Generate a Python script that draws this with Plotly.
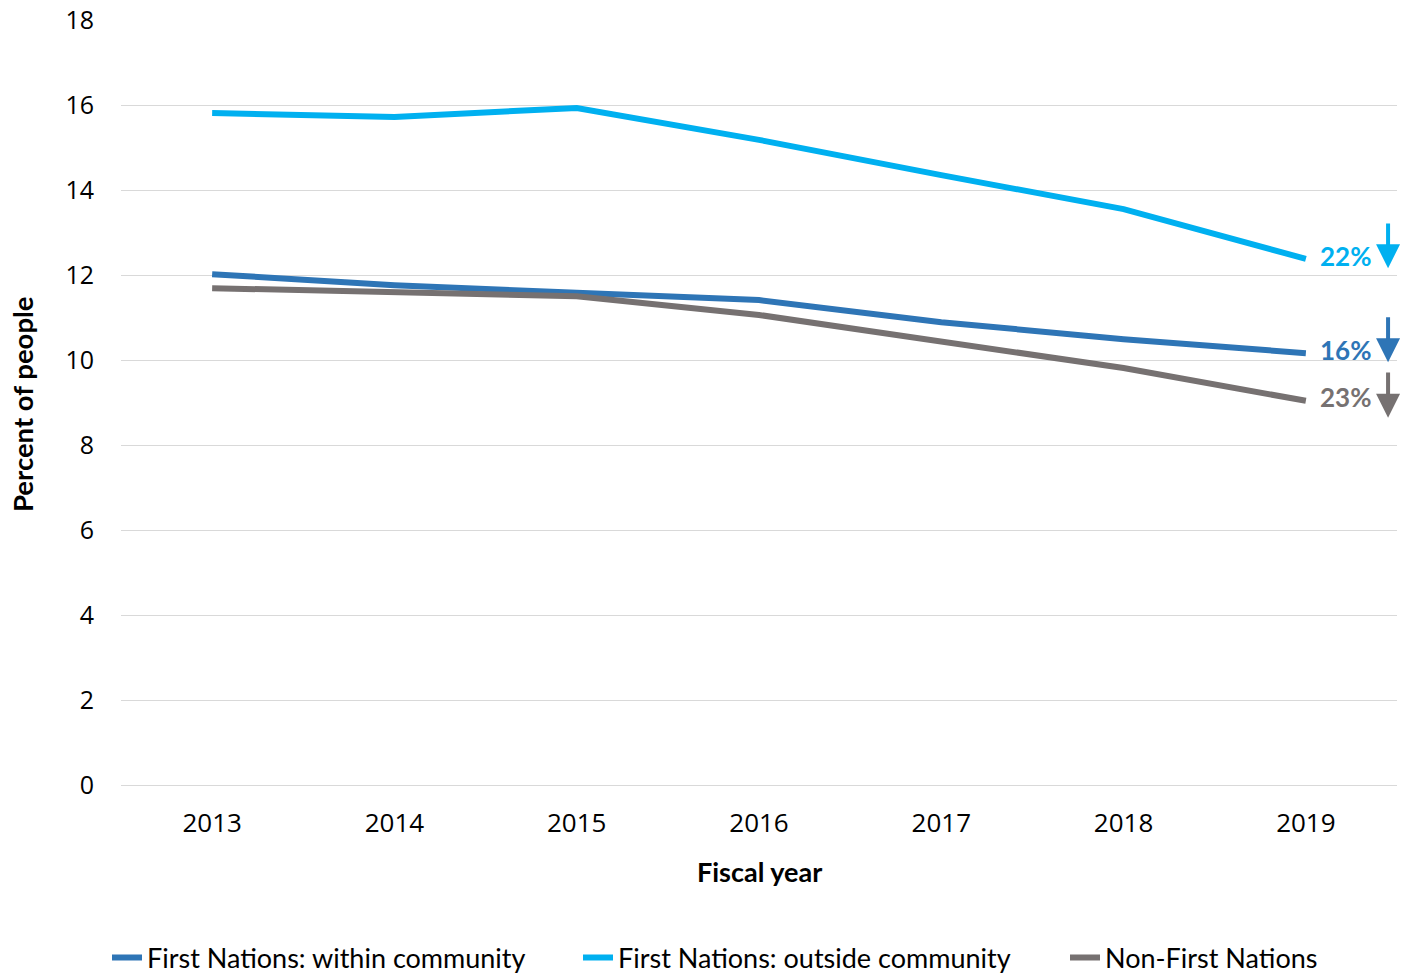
import plotly.graph_objects as go

years = ["2013", "2014", "2015", "2016", "2017", "2018", "2019"]
within = [12.02, 11.76, 11.58, 11.41, 10.89, 10.49, 10.16]
outside = [15.81, 15.72, 15.93, 15.18, 14.35, 13.55, 12.38]
non_fn = [11.69, 11.60, 11.50, 11.06, 10.42, 9.81, 9.04]
names = ["First Nations: within community", "First Nations: outside community", "Non-First Nations"]
colors = ["#2E75B6", "#00B0F0", "#767171"]
changes = ["16%", "22%", "23%"]
series = [within, outside, non_fn]

legend_ids = ["legend", "legend2", "legend3"]
legend_x = [107 / 1413, 578 / 1413, 1065 / 1413]

fig = go.Figure()
for name, vals, col, lid in zip(names, series, colors, legend_ids):
    fig.add_trace(go.Scatter(x=years, y=vals, mode="lines", name=name, legend=lid,
                             line=dict(color=col, width=6)))

# labels and down arrows (offsets relative to last value, styling only)
tip_off = [-0.21, -0.22, -0.40]
tail_off = [0.88, 0.87, 0.70]
lab_off = [0.08, 0.07, 0.09]
for vals, col, txt, to, ta, lo in zip(series, colors, changes, tip_off, tail_off, lab_off):
    last = vals[-1]
    fig.add_annotation(x=0.96, xref="paper", y=last + lo, yref="y", text=f"<b>{txt}</b>",
                       showarrow=False, font=dict(family="Lato", size=26, color=col),
                       xanchor="center", yanchor="middle")
    fig.add_annotation(x=0.993, xref="paper", y=last + to, yref="y",
                       ax=0, axref="pixel", ay=last + ta, ayref="y",
                       showarrow=True, arrowhead=2, arrowsize=1.2, arrowwidth=4,
                       arrowcolor=col, text="")

fig.add_annotation(x=0.5, xref="paper", y=-0.1137, yref="paper", text="<b>Fiscal year</b>",
                   showarrow=False, font=dict(family="Lato", size=27, color="#000"),
                   xanchor="center", yanchor="middle")
fig.add_annotation(x=-0.0776, xref="paper", y=0.498, yref="paper", text="<b>Percent of people</b>",
                   showarrow=False, textangle=-90, font=dict(family="Lato", size=27.5, color="#000"),
                   xanchor="center", yanchor="middle")

leg_common = dict(orientation="h", xanchor="left", xref="container",
                  y=0.0164, yanchor="middle", yref="container",
                  font=dict(family="Lato", size=27), bgcolor="rgba(0,0,0,0)")

fig.update_layout(
    width=1413, height=974,
    paper_bgcolor="white", plot_bgcolor="white",
    margin=dict(l=121, r=16, t=20, b=189, autoexpand=False),
    font=dict(family="Open Sans", color="#000000"),
    xaxis=dict(type="category", range=[-0.5, 6.5], showgrid=False, showline=False, ticks="",
               tickfont=dict(size=26, family="Open Sans"), ticklabelstandoff=20, automargin=False),
    yaxis=dict(range=[0, 18], dtick=2, showgrid=True, gridcolor="#D9D9D9", gridwidth=1,
               zeroline=True, zerolinecolor="#D9D9D9", zerolinewidth=1, ticks="",
               tickfont=dict(size=25, family="Open Sans"), ticklabelstandoff=26, automargin=False),
    legend=dict(x=legend_x[0], **leg_common),
    legend2=dict(x=legend_x[1], **leg_common),
    legend3=dict(x=legend_x[2], **leg_common),
    showlegend=True,
)

fig.write_html("out.html", post_script="document.body.style.margin='0';",
               config={"displayModeBar": False})
